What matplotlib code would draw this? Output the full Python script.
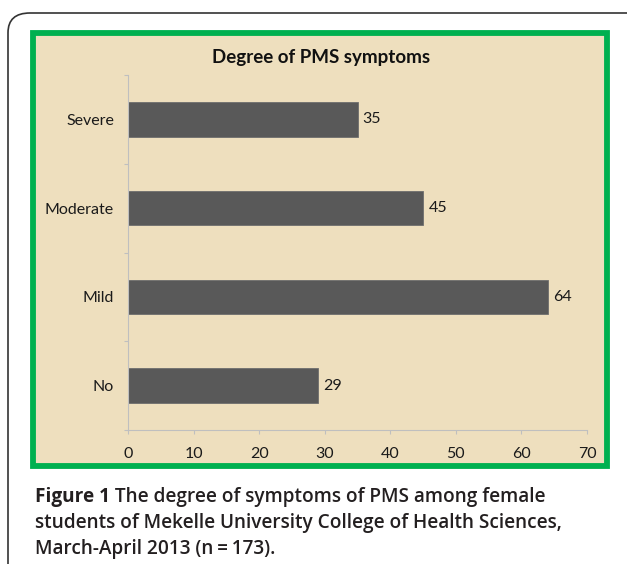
import numpy as np
import matplotlib as mpl
import matplotlib.pyplot as plt
from matplotlib.patches import FancyBboxPatch, Rectangle

# Datos del grafico
categorias = ["No", "Mild", "Moderate", "Severe"]
valores = [29, 64, 45, 35]
ticks_x = [0, 10, 20, 30, 40, 50, 60, 70]

titulo = "Degree of PMS symptoms"
leyenda_1 = "Figure 1"
leyenda_resto = [" The degree of symptoms of PMS among female",
                 "students of Mekelle University College of Health Sciences,",
                 "March-April 2013 (n\u2009=\u2009173)."]

fuente = "Lato"
papel = "#EEDFBE"
verde = "#00B050"

fig = plt.figure(figsize=(6.27, 5.64), dpi=100)
fig.patch.set_facecolor("white")
W, H = 627, 564

def fx(px):
    return px / W

def fy(py):
    return 1 - py / H

# marco exterior redondeado (sale por la derecha y por abajo)
marco = FancyBboxPatch((fx(8), fy(600)), fx(700), fy(13) - fy(600),
                       boxstyle="round,pad=0,rounding_size=0.035",
                       transform=fig.transFigure, facecolor="none",
                       edgecolor="#333333", linewidth=1.2, zorder=0)
fig.patches.append(marco)

# fondo papel con borde verde
fondo = Rectangle((fx(33), fy(466)), fx(607) - fx(33), fy(33) - fy(466),
                  transform=fig.transFigure, facecolor=papel,
                  edgecolor=verde, linewidth=4.2, zorder=1)
fig.patches.append(fondo)

ax = fig.add_axes([fx(128), fy(430), fx(587) - fx(128), fy(75) - fy(430)])
ax.set_facecolor("none")
ax.set_zorder(2)

y = np.arange(len(categorias))
barras = ax.barh(y, valores, height=0.39, color="#595959",
                 edgecolor="#6e6e6e", linewidth=0.6)
for yi, v in zip(y, valores):
    ax.text(v + 0.8, yi, str(v), va="center", ha="left",
            fontsize=11.5, family=fuente, color="#1a1a1a")

ax.set_xlim(0, 70)
ax.set_ylim(-0.5, len(categorias) - 0.5)
ax.set_xticks(ticks_x)
ax.set_xticklabels([str(t) for t in ticks_x], family=fuente, fontsize=11.5,
                   color="#1a1a1a")
ax.set_yticks(y)
ax.set_yticklabels(categorias, family=fuente, fontsize=11.5, color="#1a1a1a")
ax.set_yticks(np.arange(-0.5, len(categorias)), minor=True)
ax.tick_params(axis="y", which="major", length=0, pad=10)
ax.tick_params(axis="y", which="minor", length=3, color="#bfbfbf", width=0.8)
ax.tick_params(axis="x", length=3, color="#bfbfbf", width=0.8, pad=9)

for lado in ["top", "right"]:
    ax.spines[lado].set_visible(False)
for lado in ["left", "bottom"]:
    ax.spines[lado].set_color("#bfbfbf")
    ax.spines[lado].set_linewidth(0.8)

fig.text(fx(321), fy(57), titulo, ha="center", va="center",
         fontsize=13.5, fontweight="bold", family=fuente, color="#111111")

# leyenda de la figura
kw = dict(ha="left", va="center", fontsize=13.7, family="Open Sans",
          color="#231f20")
t1 = fig.text(fx(35), fy(497), leyenda_1, fontweight="bold", **kw)
fig.canvas.draw()
bb = t1.get_window_extent()
fig.text(bb.x1 / W, fy(497), leyenda_resto[0], fontweight="semibold", **kw)
fig.text(fx(35), fy(523), leyenda_resto[1], fontweight="semibold", **kw)
fig.text(fx(35), fy(549), leyenda_resto[2], fontweight="semibold", **kw)

fig.savefig("out.png", dpi=100, facecolor=fig.get_facecolor())
